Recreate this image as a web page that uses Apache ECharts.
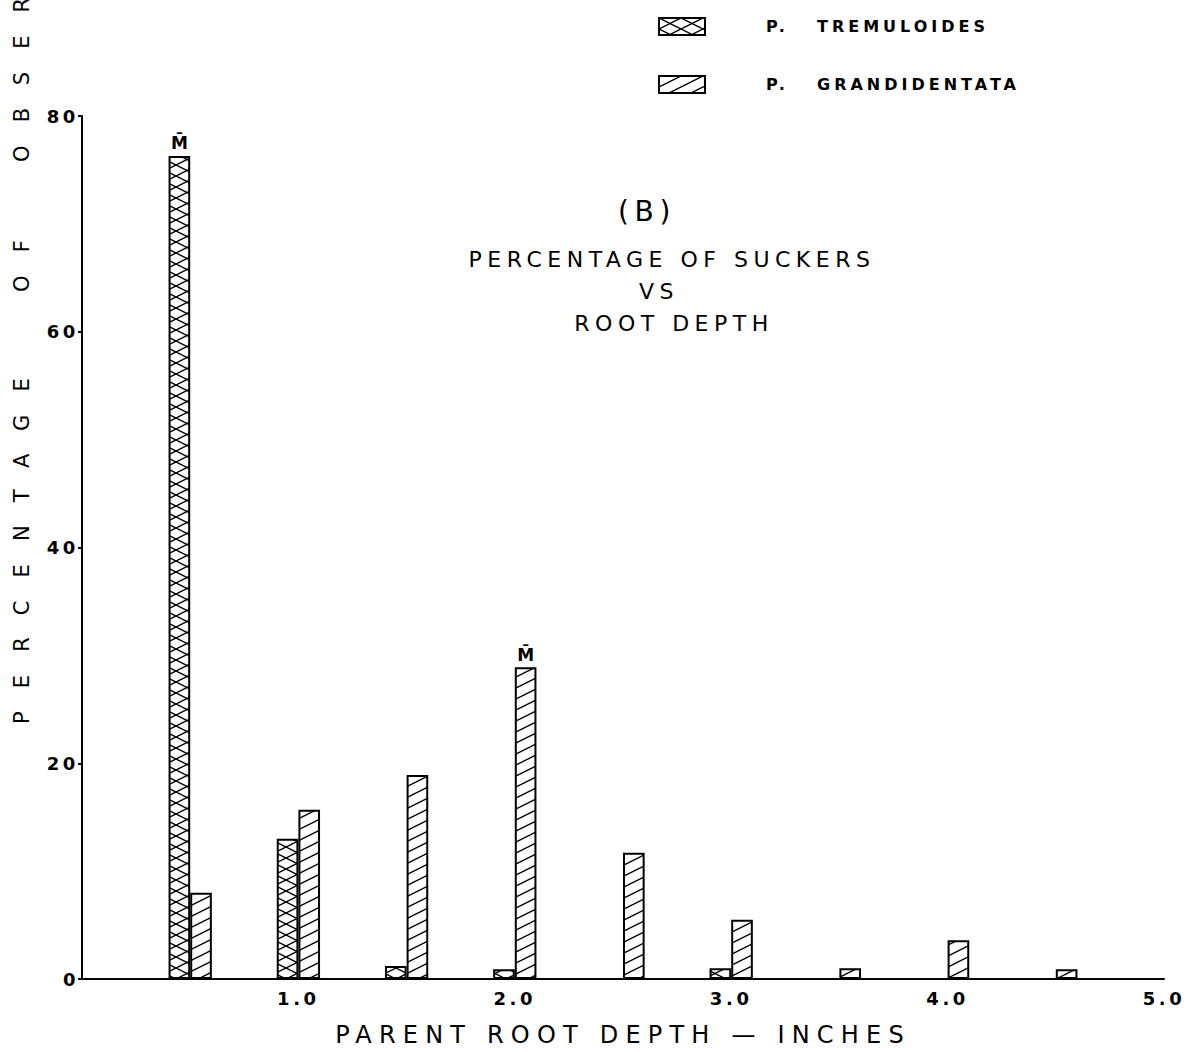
<!DOCTYPE html>
<html>
<head>
<meta charset="utf-8">
<script src="https://cdn.jsdelivr.net/npm/echarts@6/dist/echarts.min.js"></script>
<style>
  html, body { margin: 0; padding: 0; background: #fff; }
  #main { width: 1196px; height: 1052px; }
  #main text { letter-spacing: 0.2em; white-space: pre; }
  #main text[style*="16px"] { letter-spacing: 0.25em; }
  #main text[style*="22px"] { letter-spacing: 0.25em; }
  #main text[style*="24px"] { letter-spacing: 0.3em; }
  #main text[style*="21px"] { letter-spacing: 1.1em; }
  #main text[style*="17px"] { letter-spacing: 0; }
</style>
</head>
<body>
<div id="main"></div>
<script>
// ---- data ----
const depths = [0.5, 1.0, 1.5, 2.0, 2.5, 3.0, 3.5, 4.0, 4.5];
const tremuloides = [76.3, 13.0, 1.2, 0.9, null, 1.0, null, null, null];
const grandidentata = [8.0, 15.7, 18.9, 28.9, 11.7, 5.5, 1.0, 3.6, 0.9];
const tremuloidesMean = 0.5;
const grandidentataMean = 2.0;
const xTickValues = [1, 2, 3, 4, 5];
const xTickLabels = ['1.0', '2.0', '3.0', '4.0', '5.0'];
const yTickValues = [0, 20, 40, 60, 80];
const seriesNames = ['P. TREMULOIDES', 'P. GRANDIDENTATA'];
const titleLines = ['(B)', 'PERCENTAGE OF SUCKERS', 'VS', 'ROOT DEPTH'];
const xAxisName = 'PARENT ROOT DEPTH \u2014 INCHES';
const yAxisNameWords = ['PERCENTAGE', 'OF', 'OBSERVATIONS'];

// ---- layout ----
const GRID_LEFT = 82, GRID_RIGHT = 32, GRID_TOP = 116, GRID_BOTTOM = 71;
const X_MAX = 5;
const plotW = 1196 - GRID_LEFT - GRID_RIGHT;
const barW = plotW / X_MAX / 10;  // two bars per half-inch slot
const FONT = 'DejaVu Sans';

function tile(draw) {
  const c = document.createElement('canvas');
  c.width = 22; c.height = 11;
  const ctx = c.getContext('2d');
  ctx.strokeStyle = '#000';
  ctx.lineWidth = 1.4;
  draw(ctx);
  return c.toDataURL();
}
const crossImg = tile(ctx => {
  for (let k = -1; k <= 1; k++) {
    ctx.beginPath(); ctx.moveTo(-22, -11 + 11 * k); ctx.lineTo(44, 22 + 11 * k); ctx.stroke();
    ctx.beginPath(); ctx.moveTo(-22, 22 + 11 * k); ctx.lineTo(44, -11 + 11 * k); ctx.stroke();
  }
});
const hatchImg = tile(ctx => {
  for (let k = -1; k <= 1; k++) {
    ctx.beginPath(); ctx.moveTo(-22, 22 + 11 * k); ctx.lineTo(44, -11 + 11 * k); ctx.stroke();
  }
});
function pattern(img) {
  return { image: img, repeat: 'repeat', imageWidth: 22, imageHeight: 11,
           x: GRID_LEFT, y: 0, scaleX: barW / 22, scaleY: 1 };
}

function buildData(vals, meanAt) {
  return depths.map((d, i) => {
    if (vals[i] == null) return [d, null];
    const item = { value: [d, vals[i]] };
    if (d === meanAt) {
      item.label = { show: true, position: 'top', distance: 4, formatter: 'M\u0304',
                     fontSize: 17, fontWeight: 'bold', fontFamily: FONT, color: '#000' };
    }
    return item;
  });
}

const chart = echarts.init(document.getElementById('main'), null, { renderer: 'svg' });

const legendRich = {
  p: { fontSize: 16, fontWeight: 'bold', fontFamily: FONT, color: '#000', padding: [0, 0, 0, 56], width: 51 },
  n: { fontSize: 16, fontWeight: 'bold', fontFamily: FONT, color: '#000' }
};

// y-axis title words: start positions along the rotated baseline
const yNameStarts = [724, 292, 162];

chart.setOption({
  animation: false,
  backgroundColor: '#fff',
  grid: { left: GRID_LEFT, right: GRID_RIGHT, top: GRID_TOP, bottom: GRID_BOTTOM },
  legend: {
    orient: 'vertical', left: 658, top: 17, padding: 0,
    icon: 'rect',
    itemWidth: 46, itemHeight: 17, itemGap: 39,
    data: seriesNames,
    formatter: name => {
      const parts = name.split(' ');
      return '{p|' + parts[0] + '}{n|' + parts.slice(1).join(' ') + '}';
    },
    textStyle: { rich: legendRich }
  },
  xAxis: {
    type: 'value', min: 0, max: X_MAX, interval: 1,
    name: xAxisName, nameLocation: 'middle', nameGap: 44,
    nameTextStyle: { fontSize: 24, fontFamily: FONT, color: '#000' },
    axisLine: { lineStyle: { color: '#000', width: 2 } },
    axisTick: { show: false },
    splitLine: { show: false },
    axisLabel: {
      margin: 10, fontSize: 18, fontWeight: 'bold', fontFamily: FONT, color: '#000',
      formatter: v => { const i = xTickValues.indexOf(v); return i < 0 ? '' : xTickLabels[i]; }
    }
  },
  yAxis: {
    type: 'value', min: yTickValues[0], max: yTickValues[yTickValues.length - 1], interval: 20,
    axisLine: { show: true, lineStyle: { color: '#000', width: 2 } },
    axisTick: { show: true, length: 4, lineStyle: { color: '#000', width: 2 } },
    splitLine: { show: false },
    axisLabel: { margin: 3, fontSize: 18, fontWeight: 'bold', fontFamily: FONT, color: '#000' }
  },
  series: [
    {
      name: seriesNames[0], type: 'bar', barWidth: barW, barGap: '0%',
      itemStyle: { color: pattern(crossImg), borderColor: '#000', borderWidth: 2 },
      data: buildData(tremuloides, tremuloidesMean)
    },
    {
      name: seriesNames[1], type: 'bar', barWidth: barW, barGap: '0%',
      itemStyle: { color: pattern(hatchImg), borderColor: '#000', borderWidth: 2 },
      data: buildData(grandidentata, grandidentataMean)
    }
  ],
  graphic: [
    { type: 'text', x: 647, y: 211, style: { text: titleLines[0], fontSize: 28, fontFamily: FONT, fill: '#000', textAlign: 'center', textVerticalAlign: 'middle' } },
    { type: 'text', x: 672, y: 259, style: { text: titleLines[1], fontSize: 22, fontFamily: FONT, fill: '#000', textAlign: 'center', textVerticalAlign: 'middle' } },
    { type: 'text', x: 659, y: 291, style: { text: titleLines[2], fontSize: 22, fontFamily: FONT, fill: '#000', textAlign: 'center', textVerticalAlign: 'middle' } },
    { type: 'text', x: 674, y: 323, style: { text: titleLines[3], fontSize: 22, fontFamily: FONT, fill: '#000', textAlign: 'center', textVerticalAlign: 'middle' } }
  ].concat(yAxisNameWords.map((w, i) => ({
    type: 'text', x: 22, y: yNameStarts[i], rotation: Math.PI / 2,
    style: { text: w, fontSize: 21, fontFamily: FONT, fill: '#000', textAlign: 'left', textVerticalAlign: 'middle' }
  })))
});
</script>
</body>
</html>
